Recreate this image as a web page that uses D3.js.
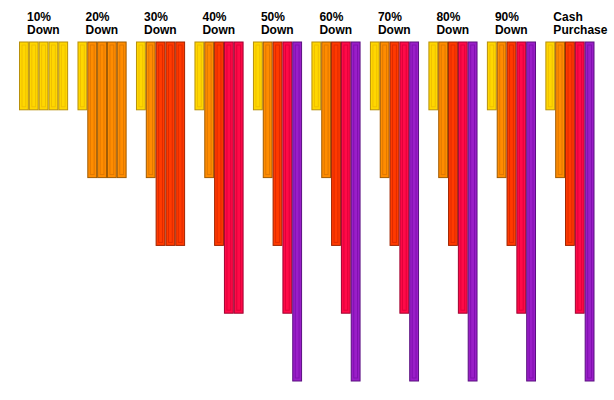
<!DOCTYPE html><html><head><script src="https://cdn.jsdelivr.net/npm/d3@7"></script>
<style>body{margin:0;background:#fff}</style></head><body><svg id="c" width="614" height="400"></svg>
<script>
const categories=["10%|Down","20%|Down","30%|Down","40%|Down","50%|Down","60%|Down","70%|Down","80%|Down","90%|Down","Cash|Purchase"];
const values=[[1,1,1,1,1],[1,2,2,2,2],[1,2,3,3,3],[1,2,3,4,4],[1,2,3,4,5],[1,2,3,4,5],[1,2,3,4,5],[1,2,3,4,5],[1,2,3,4,5],[1,2,3,4,5]];
const fills=["#FFD700","#FF8C00","#FF3A00","#FF0A48","#9A1EC8"];
const strokes=["#B8900A","#A05A00","#A02400","#A00030","#5A1080"];
const inner=["#F0C000","#E07800","#E02A00","#E0003A","#8010B0"];
const svg=d3.select("#c");
const x=d3.scaleBand().domain(d3.range(10)).range([19,594.5]).paddingInner(0.16).paddingOuter(0);
const xi=d3.scaleBand().domain(d3.range(5)).range([0,x.bandwidth()]);
const y=d3.scaleLinear().domain([0,5]).range([42,381]);
const g=svg.selectAll("g.grp").data(values).join("g").attr("transform",(d,i)=>`translate(${x(i)},0)`);
const b=g.selectAll("g.b").data(d=>d).join("g");
b.append("rect").attr("x",(d,j)=>xi(j)+0.5).attr("y",y(0)).attr("width",xi.bandwidth()-1).attr("height",d=>y(d)-y(0))
 .attr("fill",d=>fills[d-1]).attr("stroke",d=>strokes[d-1]);
b.append("rect").attr("x",(d,j)=>xi(j)+3).attr("y",y(0)+3).attr("width",xi.bandwidth()-6).attr("height",d=>y(d)-y(0)-6)
 .attr("fill","none").attr("stroke",d=>inner[d-1]);
g.append("text").attr("x",8).attr("y",21).attr("font-family","Arial, Liberation Sans").attr("font-weight","bold").attr("font-size",12)
 .selectAll("tspan").data((d,i)=>categories[i].split("|")).join("tspan").attr("x",8).attr("dy",(d,k)=>k?13:0).text(d=>d);
</script></body></html>
